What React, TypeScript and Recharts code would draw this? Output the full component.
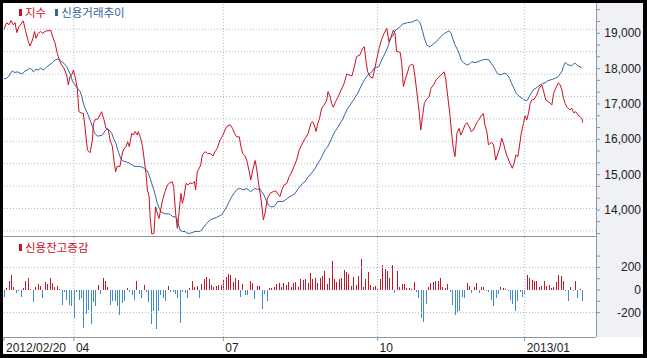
import React from 'react';
import { ComposedChart, Line, Bar, Cell, XAxis, YAxis, ReferenceLine } from 'recharts';

const seriesNames = ['지수', '신용거래추이'];
const barSeriesName = '신용잔고증감';

// [trading-day position, value]
const kospiPoints: number[][] = [
  [0,19110],[1.1,19300],[2.1,19240],[2.9,19360],[3.9,19240],[4.6,19300],[5.3,19020],[6.2,19190],[7,19260],[8,19350],[8.9,19090],[10.1,18760],[10.8,18640],[11.8,18810],[12.7,19050],[13.3,18860],[14.2,19000],[15.2,19050],[16,19000],[17,19050],[17.7,19070],[18.7,19070],[19.4,19090],[20.2,18900],[21.2,18720],[22.1,18430],[23,18240],[23.9,18100],[24.9,18010],[26,17820],[26.7,17540],[27.4,17770],[28.1,17820],[28.8,17960],[29.5,17770],[30.4,17440],[31.1,16780],[32.2,16740],[32.9,16740],[33.6,16360],[34.6,15700],[35.7,15620],[36.7,15980],[37.1,16450],[38,16570],[38.9,16570],[39.8,16690],[40.5,16780],[41.5,16550],[42.3,16310],[43.3,16260],[44,15980],[45,15790],[45.6,15410],[46.3,15080],[47,15240],[48.1,15230],[48.8,15510],[49.5,15700],[50.6,15790],[51.3,15930],[52,15790],[53,16170],[53.7,16120],[54.4,16220],[55.3,16120],[55.7,16220],[56.7,16030],[57.5,15790],[58.2,15410],[58.9,15040],[59.5,14570],[60.2,14380],[60.6,13810],[61.3,13320],[62.2,13340],[62.9,14090],[63.6,13910],[64.3,13760],[65,14000],[65.8,14280],[66.8,14520],[67.8,14710],[68.9,14770],[69.8,14800],[70.4,14660],[71.2,13910],[71.9,13480],[72.6,13910],[73.4,14470],[74,14190],[74.7,14380],[75.5,14750],[76.5,14710],[77.2,14770],[78.1,14740],[79,14800],[79.5,14570],[80.2,15080],[81,15180],
  [81.6,15270],[82.3,15560],[83.4,15650],[84.4,15600],[85.5,15600],[86.8,15530],[87.5,15650],[88.5,15740],[89.6,15980],[90.5,16070],[91.7,16260],[92.4,16360],[93.8,16410],[94.8,16310],[95.6,16170],[96.5,16070],[97.6,16070],[98.3,15790],[99,15600],[100,15530],[100.7,15410],[101.6,15130],[102.4,14850],[103.2,15130],[104.2,15400],[104.9,15130],[105.8,14660],[106.7,14280],[107.6,13720],[108.3,13910],[109.3,14330],[110.4,14470],[111.7,14520],[112.7,14540],[113.7,14450],[114.5,14380],[115.3,14570],[116.2,14710],[117.3,14750],[118.3,14940],[119.4,15080],[120.3,15230],[121.4,15410],[122.5,15700],[123.5,15840],[124.5,15980],[125.3,16060],[126.2,16170],[127.3,16450],[128,16500],[128.7,16410],[129.5,16220],[130,16410],[130.9,16590],[131.8,16880],[132.8,16970],[133.9,17110],[134.4,17350],[135.3,17210],[135.9,17020],[136.6,16910],[137.6,17070],[138.7,17210],[139.9,17400],[141.1,17580],[142.2,17850],[143.2,17820],[144.3,17790],[145.2,18010],[146.3,18340],[147.7,18390],[148.8,18570],[149.5,18620],[150.2,18200],[150.9,17910],[151.9,17770],[152.9,17730],[153.7,17960],[154.7,18290],[155.6,18570],[156.6,18810],[157.7,19000],[158.8,19140],[159.7,18760],[160.6,18900],[161.5,19090],[162.2,19000],[162.9,18480],[163.7,18480],[164.4,18450],
  [165,18150],[165.7,17490],[166.4,17680],[167.1,17820],[168.1,18060],[168.9,18120],[169.8,18100],[170.5,17770],[171.5,17210],[172.3,16740],[172.9,16260],[173.6,16640],[174.4,17020],[175.3,17130],[176.4,17210],[177.1,17440],[178.2,17540],[179.3,17680],[180.2,17750],[181.3,17820],[182.6,17910],[183.3,17680],[184.1,17210],[185,16690],[185.7,16170],[186.4,15740],[187.1,15510],[187.9,16170],[188.8,16310],[189.5,16120],[190.4,16260],[191.3,16410],[192,16470],[193,16360],[193.8,16220],[194.7,16260],[195.4,16360],[196.4,16500],[197.2,16570],[198.2,16690],[198.9,16720],[199.5,16410],[200.3,16220],[201,15840],[201.7,15890],[202.4,15910],[203.1,15840],[204,15410],[204.9,15600],[205.8,15790],[206.5,16030],[207.2,15890],[207.9,15700],[208.8,15510],[209.9,15320],[210.9,15180],[211.6,15320],[212.4,15560],[213.2,15510],[213.9,15840],[214.6,16170],[215.5,16450],[216.2,16660],[216.9,16550],[217.6,16740],[218.3,17020],[218.9,17110],[219.9,17130],[221,17250],[222,17440],[223.1,17540],[223.7,17400],[224.8,17110],[225.6,17070],[226.6,17020],[227.3,16970],[228,17300],[228.9,17440],[230,17600],[230.7,17540],[231.4,17410],[232.1,17160],[232.8,17020],[233.4,16920],[234.1,16880],[234.8,16830],[235.5,16880],[236.3,16750],[237.2,16780],[238.1,16690],[239,16640],[239.7,16590],[240.1,16470]
];

const creditPoints: number[][] = [
  [0,17710],[1.1,17730],[1.8,17770],[2.7,17870],[3.4,17930],[4.5,17890],[5.5,17910],[6.7,17870],[7.6,17850],[8.7,17930],[9.7,17960],[10.5,18010],[11.5,17980],[12.2,17910],[13.3,17980],[14.2,17960],[15.2,18010],[16.3,17960],[17.2,18010],[17.9,18060],[19.1,18120],[20.1,18170],[21.2,18240],[22.2,18270],[23,18240],[23.9,18200],[24.9,18150],[26,18060],[26.7,17960],[27.6,17820],[28.5,17630],[29.4,17540],[30.5,17440],[31.6,17350],[32.3,17210],[32.9,17020],[33.6,16880],[34.6,16740],[35.7,16550],[36.7,16360],[37.7,16170],[38.7,16090],[39.8,16100],[40.8,16120],[41.4,16190],[42.4,16280],[42.9,16310],[43.6,16260],[44.7,16170],[45.4,16030],[46.4,15890],[47,15740],[47.7,15600],[48.4,15460],[49.2,15390],[50.2,15370],[51.1,15350],[52.2,15320],[53.2,15270],[54.3,15230],[55.4,15230],[56.5,15230],[57.6,15200],[58.2,15180],[59.2,15130],[59.9,15040],[60.6,14900],[61.3,14750],[62.2,14570],[62.9,14380],[63.6,14190],[64.4,14050],[65.1,13950],[66.1,13910],[67.1,13890],[68.2,13890],[69.2,13860],[70,13810],[71,13810],[71.7,13760],[72.3,13620],[73,13430],[74.1,13390],[75.1,13390],[76,13340],[77.1,13340],[78.1,13360],[79.3,13390],[80.3,13390],[81.1,13390],
  [82,13430],[83,13530],[84.1,13620],[85.2,13700],[86.2,13740],[87.1,13760],[88.2,13790],[89.3,13830],[90.3,13860],[91.3,13970],[92.4,14090],[93.5,14240],[94.5,14380],[95.6,14490],[96.5,14570],[97.6,14610],[98.6,14590],[99.6,14570],[100.4,14610],[101.4,14570],[102.3,14520],[103.5,14580],[104.2,14610],[105.2,14580],[106,14610],[106.9,14520],[107.9,14420],[108.7,14280],[109.7,14140],[110.6,14090],[111.7,14090],[112.7,14140],[113.5,14240],[114.5,14240],[115.7,14240],[116.6,14280],[117.6,14330],[118.7,14380],[119.7,14420],[120.8,14470],[121.7,14570],[122.8,14660],[123.8,14750],[124.9,14800],[125.8,14900],[126.9,14990],[128,15080],[129.1,15180],[130.2,15320],[131.1,15410],[132.2,15560],[133.2,15700],[134.3,15790],[135.3,15930],[136.2,16070],[137.3,16220],[138.3,16310],[139.4,16450],[140.4,16550],[141.3,16690],[142.2,16830],[143.2,16920],[144,17020],[145,17110],[145.9,17210],[146.7,17300],[147.7,17440],[148.7,17580],[149.5,17680],[150.4,17770],[151.5,17850],[152.6,17910],[153.6,18010],[154.7,18040],[155.6,18060],[156.4,18200],[157.4,18340],[158.4,18480],[159.5,18670],[160.4,18860],[161.5,18950],[162.5,19090],[163.6,19140],[164.4,19190],
  [165.3,19260],[166.4,19280],[167.4,19300],[168.5,19310],[169.4,19320],[170.5,19360],[171.5,19380],[172.3,19330],[172.9,19240],[173.7,19050],[174.4,18860],[175.4,18670],[176.4,18620],[177.1,18640],[178.2,18700],[179.3,18760],[180.2,18830],[181.2,18900],[182.3,18980],[183.3,19020],[184.1,19050],[184.6,19070],[185.5,19000],[186.1,18860],[187.1,18670],[188.2,18530],[189,18390],[189.7,18240],[190.6,18170],[191.6,18120],[192.3,18100],[193.1,18130],[194.1,18200],[195,18170],[196.1,18180],[197.1,18210],[198.2,18240],[199.3,18260],[200.3,18260],[201.3,18240],[202.1,18150],[203.1,18060],[204,17940],[204.9,17850],[205.8,17820],[206.8,17850],[207.9,17870],[208.8,17820],[209.7,17730],[210.6,17580],[211.6,17440],[212.5,17300],[213.5,17230],[214.4,17190],[215.5,17130],[216.5,17090],[217.2,17110],[217.9,17210],[218.7,17300],[219.6,17400],[220.6,17440],[221.4,17490],[222.4,17540],[223.3,17570],[224.5,17600],[225.5,17650],[226.6,17680],[227.7,17700],[228.7,17730],[229.6,17750],[230.4,17820],[231.4,17910],[232.1,18060],[232.8,18170],[233.4,18150],[234.1,18100],[234.8,18100],[235.5,18080],[236.3,18130],[237,18150],[237.7,18100],[238.4,18060],[239.1,18060],[239.7,18010]
];

// daily change of credit balance (one bar per trading day)
const creditChange: number[] = [
  -58, 15, 78, 130, 29, -29, -5, -58, 15, 78,
  107, 6, -107, 29, 52, 35, -72, 72, 49, 107,
  64, 29, 38, 6, -130, -15, -87, -130, -145, -246,
  -15, -87, -67, -340, -212, -174, -305, -107, -145, 44,
  -38, 107, 78, 23, -130, -101, -96, -145, -218, -116,
  -101, 17, -20, -43, -87, 78, -38, -72, 44, -20,
  -107, -300, -189, -348, -189, -43, -72, -96, 35, -20,
  -20, -38, -67, -290, -20, -29, -67, 15, 78, 29,
  38, -72, 49, 96, 116, 96, 44, 23, 35, 44,
  44, 87, 116, 145, 136, 72, 110, 87, -58, 49,
  -43, -43, 78, 58, -78, 38, 38, -168, -38, -101,
  15, 15, 23, 52, 58, 29, 58, 44, 72, 23,
  58, 72, 29,
  96, 87, 96, 58, 154, 101, 110, 58, 107, 122,
  165, 49, 107, 261, 96, 72, 101, 107, 174, 160,
  139, 35, 116, 44, 122, 270, 29, 96, 160, 44,
  29, 35, 15, 96, 223, 189, 165, 107, 218, -29,
  165, 29, 49, 49, 15, 20, 6, 67, -20, -67,
  -246, -284, -125, 29, 58, 67, 78, 78, 107, 29,
  20, 49, -15, -130, -223, -203, -189, -58, -67, 64,
  38, -29, 23, 58, -29, 26, 26, -9, -20, -87,
  -145, -72, -38, 26, 20, 6, -9, -87, -125, -189,
  -101, -15, -58, -43, 130, 107, 87, 81, 78, 23,
  35, 78, 38, 44, 15, 29, 67, 130, 125, 78,
  -9, -101, 23, -9, 78, -72, 6, -96
];

const xTickDays = [0, 29, 91, 155, 216];
const xTickLabels = ['2012/02/20', '04', '07', '10', '2013/01'];
const gridDays = [29, 91, 155, 216];
const dayDomain = [-0.41, 245.6];

const topDomain = [13263, 19857];
const topTicks = [13333, 13667, 14000, 14333, 14667, 15000, 15333, 15667, 16000, 16333, 16667, 17000, 17333, 17667, 18000, 18333, 18667, 19000, 19333, 19667];
const topGridValues = [19113, 18479, 17845, 17211, 16577, 15943, 15309, 14675, 14041, 13407];

const bottomDomain = [-416, 478];
const bottomTicks = [300, 200, 100, 0, -100, -200];
const bottomGridValues = [200, -200];

const RED = '#cc1122';
const BLUE_LINE = '#34649f';
const RED_BAR = '#c4162a';
const BLUE_BAR = '#3f8ad0';
const AXIS = '#8c98a8';
const GRID = '#b4bcc8';
const seriesColors = [RED, BLUE_LINE];

const kospiData = kospiPoints.map(([t, v]) => ({ t, v }));
const creditData = creditPoints.map(([t, v]) => ({ t, v }));
const barData = creditChange.map((v, i) => ({ t: i, v }));

const numFont = '"Liberation Sans", Arial, sans-serif';
const krFont = '"Noto Sans CJK KR", sans-serif';

const makeRightTick = (show: (v: number) => boolean, fmt: (v: number) => string) => (props: any) => {
  const { x, y, payload } = props;
  if (!show(payload.value)) return <g />;
  return (
    <text x={x + 39} y={y} dy={4} textAnchor="end" fontFamily={numFont} fontSize={12} fill="#222">
      {fmt(payload.value)}
    </text>
  );
};

const XTick = (props: any) => {
  const { x, y, payload } = props;
  const idx = xTickDays.indexOf(payload.value);
  return (
    <text x={x + 2} y={y + 9} textAnchor="start" fontFamily={numFont} fontSize={12} fill="#222">
      {xTickLabels[idx]}
    </text>
  );
};

const CrispBar = (props: any) => {
  const { x, y, width, height, fill } = props;
  const top = Math.min(y, y + height);
  const h = Math.abs(height);
  return <rect x={Math.round(x + width / 2 - 0.5)} y={top} width={1} height={h} fill={fill} shapeRendering="crispEdges" />;
};

const Marker = ({ color }: { color: string }) => (
  <span style={{ display: 'inline-block', width: 3, height: 7, background: color, marginRight: 3 }} />
);

export default function App() {
  return (
    <div style={{ position: 'absolute', left: 0, top: 0, width: 647, height: 358, background: '#000' }}>
      <div style={{ position: 'absolute', left: 3, top: 3, width: 640, height: 351, background: '#fff' }} />
      <div style={{ position: 'absolute', left: 596, top: 3, width: 47, height: 334, background: '#eff1f5' }} />

      <div style={{ position: 'absolute', left: 3, top: 3 }}>
        <ComposedChart width={640} height={233} margin={{ top: 0, right: 0, bottom: 0, left: 0 }}>
          <XAxis type="number" dataKey="t" domain={dayDomain} hide allowDataOverflow />
          <YAxis
            orientation="right"
            type="number"
            width={47}
            domain={topDomain}
            ticks={topTicks}
            interval={0}
            allowDataOverflow
            axisLine={false}
            tickLine={{ stroke: AXIS }}
            tickSize={4}
            tickMargin={2}
            tick={makeRightTick((v) => v % 1000 === 0, (v) => v.toLocaleString('en-US'))}
          />
          {topGridValues.map((g) => (
            <ReferenceLine key={'h' + g} y={g} stroke={GRID} strokeDasharray="1 2" />
          ))}
          {gridDays.map((d) => (
            <ReferenceLine key={'v' + d} x={d} stroke={GRID} strokeDasharray="1 2" />
          ))}
          <Line data={creditData} dataKey="v" name={seriesNames[1]} type="linear" stroke={BLUE_LINE} strokeWidth={1} dot={false} isAnimationActive={false} />
          <Line data={kospiData} dataKey="v" name={seriesNames[0]} type="linear" stroke={RED} strokeWidth={1} dot={false} isAnimationActive={false} />
        </ComposedChart>
      </div>

      <div style={{ position: 'absolute', left: 3, top: 236 }}>
        <ComposedChart width={640} height={118} data={barData} margin={{ top: 0, right: 0, bottom: 0, left: 0 }}>
          <XAxis
            type="number"
            dataKey="t"
            domain={dayDomain}
            allowDataOverflow
            ticks={xTickDays}
            interval={0}
            height={17}
            axisLine={false}
            tickLine={{ stroke: AXIS }}
            tickSize={4}
            tickMargin={2}
            tick={XTick}
          />
          <YAxis
            orientation="right"
            type="number"
            width={47}
            domain={bottomDomain}
            ticks={bottomTicks}
            interval={0}
            allowDataOverflow
            axisLine={false}
            tickLine={{ stroke: AXIS }}
            tickSize={4}
            tickMargin={2}
            tick={makeRightTick((v) => v % 200 === 0, (v) => String(v))}
          />
          {bottomGridValues.map((g) => (
            <ReferenceLine key={'h' + g} y={g} stroke={GRID} strokeDasharray="1 2" />
          ))}
          {gridDays.map((d) => (
            <ReferenceLine key={'v' + d} x={d} stroke={GRID} strokeDasharray="1 2" />
          ))}
          <Bar dataKey="v" name={barSeriesName} barSize={1} isAnimationActive={false} shape={CrispBar}>
            {barData.map((d, i) => (
              <Cell key={i} fill={d.v >= 0 ? RED_BAR : BLUE_BAR} />
            ))}
          </Bar>
        </ComposedChart>
      </div>

      <div style={{ position: 'absolute', left: 596, top: 3, width: 1, height: 334, background: AXIS }} />
      <div style={{ position: 'absolute', left: 3, top: 236, width: 593, height: 1, background: AXIS }} />
      <div style={{ position: 'absolute', left: 3, top: 337, width: 593, height: 1, background: AXIS }} />

      <div style={{ position: 'absolute', left: 19, top: 5, display: 'flex', alignItems: 'center', fontFamily: krFont, fontSize: 11.5, lineHeight: '15px', whiteSpace: 'nowrap' }}>
        {seriesNames.map((n, i) => (
          <span key={n} style={{ display: 'flex', alignItems: 'center', marginRight: 9 }}>
            <Marker color={seriesColors[i]} />
            <span style={{ color: seriesColors[i] }}>{n}</span>
          </span>
        ))}
      </div>
      <div style={{ position: 'absolute', left: 19, top: 239.5, display: 'flex', alignItems: 'center', fontFamily: krFont, fontSize: 11.5, lineHeight: '15px', whiteSpace: 'nowrap' }}>
        <Marker color={RED} />
        <span style={{ color: RED }}>{barSeriesName}</span>
      </div>
    </div>
  );
}
